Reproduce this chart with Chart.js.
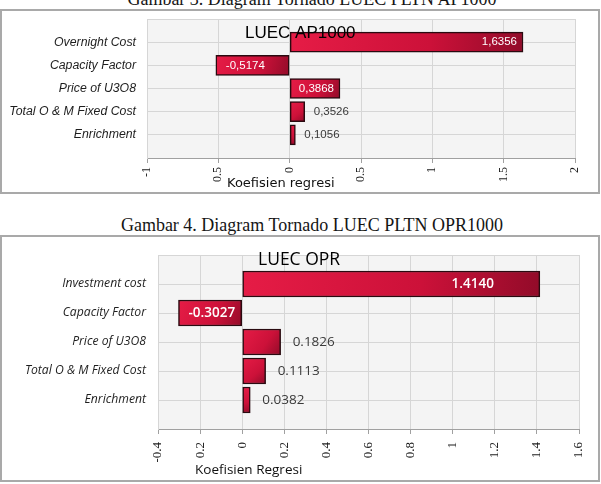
<!DOCTYPE html>
<html>
<head>
<meta charset="utf-8">
<script src="https://cdn.jsdelivr.net/npm/chart.js@4.4.1/dist/chart.umd.min.js"></script>
<style>
  html, body { margin: 0; padding: 0; background: #fff; width: 601px; height: 484px; overflow: hidden; }
  .cap { position: absolute; left: 0; width: 624px; text-align: center; white-space: nowrap;
         font: 18px/18px "Liberation Serif", serif; color: #151515; }
  .box { position: absolute; left: 0; width: 600px; border: 2px solid #a9a9a9; box-sizing: border-box; }
  canvas { position: absolute; left: 0; }
</style>
</head>
<body>
<div class="cap" style="top:-10px">Gambar 3. Diagram Tornado LUEC PLTN AP1000</div>
<div class="box" style="top:9px;height:185px"></div>
<canvas id="chartAP" width="601" height="200" style="top:0"></canvas>

<div class="cap" style="top:216px">Gambar 4. Diagram Tornado LUEC PLTN OPR1000</div>
<div class="box" style="top:235px;height:247px"></div>
<canvas id="chartOPR" width="601" height="284" style="top:200px"></canvas>

<script>
"use strict";

// 1: data
// AP1000 (top chart)
const catAP = ['Overnight Cost', 'Capacity Factor', 'Price of U3O8', 'Total O & M Fixed Cost', 'Enrichment'];
const valAP = [1.6356, -0.5174, 0.3526, 0.1056, 0.04];
// the value labels as printed on the picture (they don't all match the bars)
const lblAP = ['1,6356', '-0,5174', '0,3868', '0,3526', '0,1056'];
const tickValAP = [-1, -0.5, 0, 0.5, 1, 1.5, 2];
const tickTxtAP = ['-1', '0.5', '0', '0.5', '1', '1.5', '2'];

// OPR1000 (bottom chart)
const catOPR = ['Investment cost', 'Capacity Factor', 'Price of U3O8', 'Total O & M Fixed Cost', 'Enrichment'];
const valOPR = [1.4140, -0.3027, 0.1826, 0.1113, 0.0382];
const lblOPR = ['1.4140', '-0.3027', '0.1826', '0.1113', '0.0382'];
const tickValOPR = [-0.4, -0.2, 0, 0.2, 0.4, 0.6, 0.8, 1, 1.2, 1.4, 1.6];
const tickTxtOPR = ['-0.4', '0.2', '0', '0.2', '0.4', '0.6', '0.8', '1', '1.2', '1.4', '1.6'];

// 2: helpers
// empty slot above and below the categories, like the Excel original
function pad(arr, empty) {
  return [empty].concat(arr, [empty]);
}

// light grey plot background
const plotBg = {
  id: 'plotBg',
  beforeDraw(chart) {
    const a = chart.chartArea;
    const ctx = chart.ctx;
    ctx.save();
    ctx.fillStyle = '#f4f4f4';
    ctx.fillRect(a.left, a.top, a.right - a.left, a.bottom - a.top);
    ctx.restore();
  }
};

// value labels, rotated tick labels, titles
const extras = {
  id: 'extras',
  afterDatasetsDraw(chart, args, o) {
    const ctx = chart.ctx;
    const meta = chart.getDatasetMeta(0);
    const data = chart.data.datasets[0].data;
    ctx.save();
    ctx.textBaseline = 'middle';
    meta.data.forEach((el, i) => {
      const v = data[i];
      if (v === null) return;
      const txt = o.labels[i];
      if (Math.abs(v) > o.insideMin) {
        ctx.font = o.inFont;
        ctx.fillStyle = '#ffffff';
        if (v >= 0) {
          ctx.textAlign = 'right';
          ctx.fillText(txt, el.x - o.insetPos, el.y);
        } else {
          ctx.textAlign = 'left';
          ctx.fillText(txt, el.x + o.insetNeg, el.y);
        }
      } else {
        ctx.font = o.outFont;
        ctx.fillStyle = '#3a3a3a';
        ctx.textAlign = 'left';
        ctx.fillText(txt, el.x + o.outGap, el.y);
      }
    });

    // x tick labels, reading bottom to top
    const xs = chart.scales.x;
    ctx.font = o.tickFont;
    ctx.fillStyle = '#1a1a1a';
    ctx.textAlign = 'right';
    o.tickVals.forEach((t, i) => {
      ctx.save();
      ctx.translate(xs.getPixelForValue(t), chart.chartArea.bottom + o.tickGap);
      ctx.rotate(-Math.PI / 2);
      ctx.fillText(o.tickTxt[i], 0, 0);
      ctx.restore();
    });

    // axis title
    ctx.textAlign = 'left';
    ctx.font = o.axisFont;
    ctx.fillStyle = '#111';
    ctx.fillText(o.axisTitle, o.axisX, o.axisY);

    // chart title (sits on top of the first bar)
    ctx.font = o.titleFont;
    ctx.fillStyle = '#000';
    ctx.fillText(o.title, o.titleX, o.titleY);
    ctx.restore();
  }
};

// bar fill: bright crimson top-left to dark red bottom-right
function barFill(thick) {
  return function (c) {
    const chart = c.chart;
    const xs = chart.scales.x;
    const ys = chart.scales.y;
    if (c.type !== 'data' || c.raw === null || !xs || !ys) return 'rgba(0,0,0,0)';
    const x0 = xs.getPixelForValue(Math.min(0, c.raw));
    const x1 = xs.getPixelForValue(Math.max(0, c.raw));
    const yc = ys.getPixelForValue(c.dataIndex);
    const g = chart.ctx.createLinearGradient(x0, yc - thick / 2, x1, yc + thick / 2);
    g.addColorStop(0, '#e61c46');
    g.addColorStop(0.6, '#cc1139');
    g.addColorStop(1, '#920b29');
    return g;
  };
}

// 3: create the charts
function makeChart(id, s) {
  return new Chart(document.getElementById(id), {
    type: 'bar',
    data: {
      labels: pad(s.cats, ''),
      datasets: [{
        data: pad(s.vals, null),
        backgroundColor: barFill(s.thick),
        borderColor: '#2a0a10',
        borderWidth: 1.5,
        borderSkipped: false,
        barThickness: s.thick
      }]
    },
    options: {
      indexAxis: 'y',
      responsive: false,
      animation: false,
      devicePixelRatio: 1,
      events: [],
      layout: { padding: { left: 0, right: s.padRight, top: s.padTop, bottom: 0 } },
      scales: {
        x: {
          type: 'linear',
          min: s.ticks[0],
          max: s.ticks[s.ticks.length - 1],
          ticks: { display: false, stepSize: s.step },
          grid: { color: '#d6d6d6', tickColor: '#a0a0a0', tickLength: 5 },
          border: { display: true, color: '#a0a0a0' },
          afterFit(scale) { scale.height = s.xHeight; scale.paddingLeft = 0; scale.paddingRight = 0; }
        },
        y: {
          type: 'category',
          offset: false,
          grid: { offset: false, color: '#d6d6d6', drawTicks: false },
          border: { color: '#d6d6d6' },
          ticks: { color: '#1e1e1e', padding: s.catPad, font: s.catFont, autoSkip: false },
          afterFit(scale) { scale.width = s.yWidth; scale.paddingTop = 0; scale.paddingBottom = 0; }
        }
      },
      plugins: {
        legend: { display: false },
        tooltip: { enabled: false },
        extras: {
          labels: pad(s.labels, ''),
          insideMin: s.insideMin,
          insetPos: s.insetPos,
          insetNeg: s.insetNeg,
          outGap: s.outGap,
          inFont: s.inFont,
          outFont: s.outFont,
          tickVals: s.ticks,
          tickTxt: s.tickTxt,
          tickFont: s.tickFont,
          tickGap: s.tickGap,
          axisTitle: s.axisTitle,
          axisFont: s.axisFont,
          axisX: s.axisX,
          axisY: s.axisY,
          title: s.title,
          titleFont: s.titleFont,
          titleX: s.titleX,
          titleY: s.titleY
        }
      }
    },
    plugins: [plotBg, extras]
  });
}

makeChart('chartAP', {
  cats: catAP, vals: valAP, labels: lblAP, ticks: tickValAP, tickTxt: tickTxtAP, step: 0.5,
  thick: 20, padTop: 19, padRight: 26, xHeight: 42, yWidth: 147, catPad: 11,
  catFont: { family: 'Liberation Sans', style: 'italic', size: 12.3 },
  insideMin: 0.3, insetPos: 6, insetNeg: 10, outGap: 9,
  inFont: '11.5px "Liberation Sans"', outFont: '11.5px "Liberation Sans"',
  tickFont: '12px "Liberation Serif"', tickGap: 9,
  axisTitle: 'Koefisien regresi', axisFont: '13px "DejaVu Sans"', axisX: 227, axisY: 184,
  title: 'LUEC AP1000', titleFont: '17px "Liberation Sans"', titleX: 245, titleY: 33
});

makeChart('chartOPR', {
  cats: catOPR, vals: valOPR, labels: lblOPR, ticks: tickValOPR, tickTxt: tickTxtOPR, step: 0.2,
  thick: 26, padTop: 55, padRight: 22, xHeight: 55, yWidth: 158, catPad: 12,
  catFont: { family: 'Open Sans', style: 'italic', size: 12.2 },
  insideMin: 0.25, insetPos: 46, insetNeg: 10, outGap: 12,
  inFont: '600 13.5px "Open Sans"', outFont: '13.5px "Open Sans"',
  tickFont: '13px "Liberation Serif"', tickGap: 13,
  axisTitle: 'Koefisien Regresi', axisFont: '13.5px "Open Sans"', axisX: 195, axisY: 270,
  title: 'LUEC OPR', titleFont: '17.5px "Open Sans"', titleX: 258, titleY: 60
});
</script>
</body>
</html>
